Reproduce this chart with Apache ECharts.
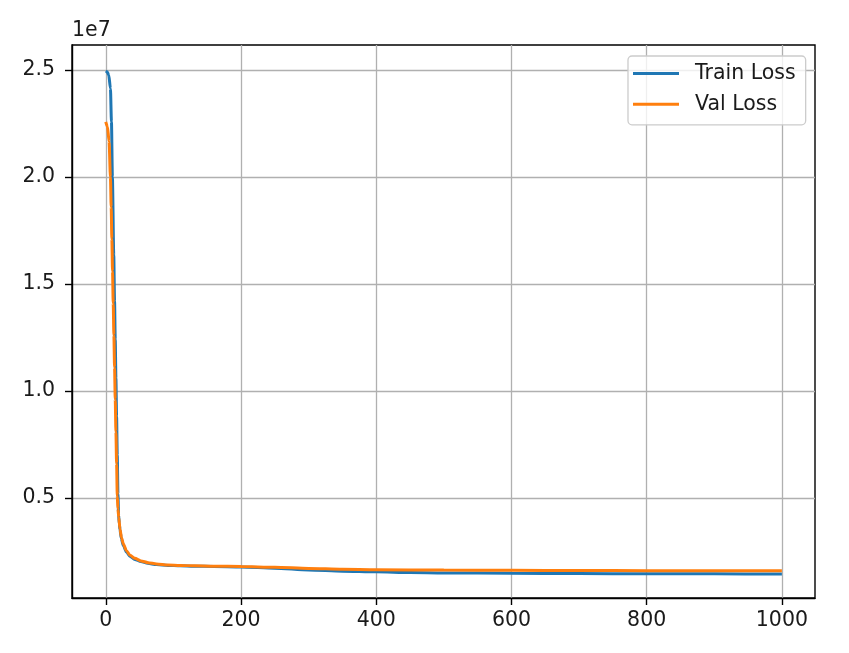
<!DOCTYPE html>
<html>
<head>
<meta charset="utf-8">
<script src="https://cdn.jsdelivr.net/npm/echarts@6/dist/echarts.min.js"></script>
<style>
html,body{margin:0;padding:0;background:#fff;}
#chart{width:849px;height:653px;}
</style>
</head>
<body>
<div id="chart"></div>
<script>
// Data
const trainEpochs = [0, 2, 4.4, 6.9, 8.4, 9.8, 11.8, 13, 14, 15, 16, 17, 18, 19, 20, 21, 23, 26, 30.5, 36, 43, 52, 62, 75, 92, 110, 130, 160, 200, 250, 300, 350, 400, 450, 500, 600, 700, 800, 900, 1000];
const trainLoss = [24950000, 24920000, 24770000, 24140000, 22580000, 20000000, 16360000, 14200000, 12400000, 10600000, 8800000, 7000000, 5200000, 4200000, 3800000, 3520000, 3100000, 2780000, 2480000, 2270000, 2130000, 2030000, 1950000, 1890000, 1850000, 1830000, 1810000, 1800000, 1780000, 1720000, 1640000, 1580000, 1550000, 1520000, 1500000, 1480000, 1470000, 1460000, 1455000, 1450000];

const valEpochs = [0, 2.5, 4.9, 6.9, 8, 9, 10, 11, 12, 13, 14, 15, 16, 17, 18, 19.2, 21, 23.2, 26, 30.5, 36, 43, 52, 62.5, 75, 92, 110, 131, 160, 200, 250, 300, 350, 400, 500, 600, 700, 800, 900, 1000];
const valLoss = [22580000, 22350000, 21650000, 20000000, 18600000, 17100000, 15600000, 14100000, 12600000, 11100000, 9600000, 8100000, 6600000, 5100000, 4500000, 4090000, 3550000, 3160000, 2850000, 2540000, 2320000, 2180000, 2060000, 1980000, 1920000, 1870000, 1850000, 1830000, 1810000, 1800000, 1760000, 1710000, 1670000, 1650000, 1630000, 1620000, 1610000, 1605000, 1600000, 1600000];

const xTicks = [0, 200, 400, 600, 800, 1000];
const yTicks = [5000000, 10000000, 15000000, 20000000, 25000000];
const seriesNames = ['Train Loss', 'Val Loss'];

const FONT = 'DejaVu Sans';
const FS = 20.5;
const chart = echarts.init(document.getElementById('chart'), null, {renderer: 'canvas'});

function pairs(xs, ys) { return xs.map((x, i) => [x, ys[i]]); }

chart.setOption({
  animation: false,
  backgroundColor: '#fff',
  grid: {left: 72, right: 34, top: 45, bottom: 55, show: true, borderColor: '#000', borderWidth: 1.4, backgroundColor: 'transparent'},
  graphic: [{type: 'text', left: 72, top: 20, style: {text: '1e7', font: FS + 'px "DejaVu Sans"', fill: '#1a1a1a'}}],
  legend: {
    data: seriesNames,
    orient: 'vertical',
    left: 628, top: 56,
    icon: 'rect',
    itemWidth: 46, itemHeight: 3,
    itemGap: 9.8,
    padding: [7, 10, 10, 5],
    backgroundColor: 'rgba(255,255,255,0.8)',
    borderColor: '#cccccc', borderWidth: 1.3, borderRadius: 4,
    textStyle: {fontFamily: FONT, fontSize: FS, color: '#1a1a1a', padding: [0, 0, 0, 11]}
  },
  xAxis: {
    type: 'value', min: -49.95, max: 1048.95,
    axisLine: {show: true, onZero: false, lineStyle: {color: '#000', width: 1.4}},
    axisTick: {show: true, length: 7, lineStyle: {color: '#000', width: 1.4}, customValues: xTicks},
    axisLabel: {fontFamily: FONT, fontSize: FS, color: '#1a1a1a', margin: 12, customValues: xTicks, formatter: v => String(v)},
    splitLine: {show: true, lineStyle: {color: '#b0b0b0', width: 1.3}}
  },
  yAxis: {
    type: 'value', min: 327000, max: 26170000,
    axisLine: {show: true, onZero: false, lineStyle: {color: '#000', width: 1.4}},
    axisTick: {show: true, length: 7, lineStyle: {color: '#000', width: 1.4}, customValues: yTicks},
    axisLabel: {fontFamily: FONT, fontSize: FS, color: '#1a1a1a', margin: 17, customValues: yTicks, formatter: v => (v / 1e7).toFixed(1)},
    splitLine: {show: true, lineStyle: {color: '#b0b0b0', width: 1.3}}
  },
  series: [
    {name: seriesNames[0], type: 'line', data: pairs(trainEpochs, trainLoss), showSymbol: false, smooth: 0.25, smoothMonotone: 'x', lineStyle: {color: '#1f77b4', width: 3}, itemStyle: {color: '#1f77b4'}},
    {name: seriesNames[1], type: 'line', data: pairs(valEpochs, valLoss), showSymbol: false, smooth: 0.25, smoothMonotone: 'x', lineStyle: {color: '#ff7f0e', width: 3}, itemStyle: {color: '#ff7f0e'}}
  ]
});
</script>
</body>
</html>
